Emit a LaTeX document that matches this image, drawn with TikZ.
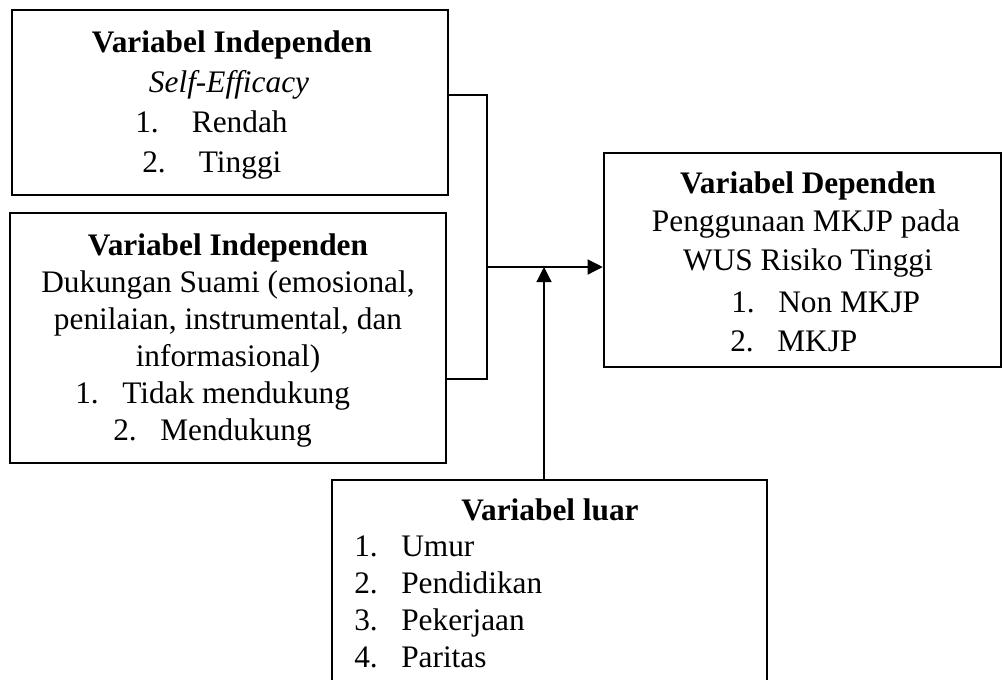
\documentclass[tikz,border=0pt]{standalone}
\usepackage{fontspec}
\setmainfont{Liberation Serif}
\usepackage{tikz}
\usetikzlibrary{arrows.meta,fit}

\tikzset{
  box/.style={draw, line width=1.9pt, inner sep=0pt},
  txt/.style={inner sep=0pt, anchor=base, font=\fontsize{23.5}{28}\selectfont},
  item/.style={txt, anchor=base west},
  conn/.style={line width=0.9pt},
  arr/.style={conn, -{Triangle[length=11.25pt,width=11.25pt]}}
}
\newcommand{\nr}[2][35.25pt]{\makebox[#1][l]{#2}}

\begin{document}
\begin{tikzpicture}[x=0.75pt, y=-0.75pt]
  \clip (0,0) rectangle (1003,679);

  % boxes
  \node[box, fit={(12,10) (448,195)}] (indepA) {};
  \node[box, fit={(10,213) (446,463)}] (indepB) {};
  \node[box, fit={(604,153) (1001,367)}] (dep) {};
  \node[box, fit={(332,480) (767,720)}] (luar) {};

  % self-efficacy
  \node[txt] (indepA-title) at (232,52) {\textbf{Variabel Independen}};
  \node[txt] (indepA-sub) at (229,92) {\textit{Self-Efficacy}};
  \node[item] (indepA-1) at (135,132) {\nr[42.5pt]{1.}Rendah};
  \node[item] (indepA-2) at (142,172) {\nr[42.5pt]{2.}Tinggi};

  % dukungan suami
  \node[txt] (indepB-title) at (228,255) {\textbf{Variabel Independen}};
  \node[txt] (indepB-sub1) at (228,292) {Dukungan Suami (emosional,};
  \node[txt] (indepB-sub2) at (228,329) {penilaian, instrumental, dan};
  \node[txt] (indepB-sub3) at (228,366) {informasional)};
  \node[item] (indepB-1) at (75,403) {\nr{1.}Tidak mendukung};
  \node[item] (indepB-2) at (113,440) {\nr{2.}Mendukung};

  % dependen
  \node[txt] (dep-title) at (808,193) {\textbf{Variabel Dependen}};
  \node[txt] (dep-sub1) at (806,231) {Penggunaan MKJP pada};
  \node[txt] (dep-sub2) at (808,270) {WUS Risiko Tinggi};
  \node[item] (dep-1) at (731,312) {\nr{1.}Non MKJP};
  \node[item] (dep-2) at (730,351) {\nr{2.}MKJP};

  % variabel luar
  \node[txt] (luar-title) at (550,520) {\textbf{Variabel luar}};
  \foreach \t [count=\k] in {Umur, Pendidikan, Pekerjaan, Paritas}
    \node[item] (luar-\k) at (354,520+36.8*\k) {\nr{\k.}\t};

  % connectors
  \coordinate (jtop) at (487,95);
  \coordinate (jbot) at (487,379);
  \coordinate (jmid) at (487,267);
  \coordinate (jarr) at (544,267);
  \draw[conn] (indepA.east |- jtop) -- (jtop) -- (jbot) -- (indepB.east |- jbot);
  \draw[arr] (jmid) -- (dep.west |- jmid);
  \draw[arr] (luar.north -| jarr) -- (jarr);
\end{tikzpicture}
\end{document}
